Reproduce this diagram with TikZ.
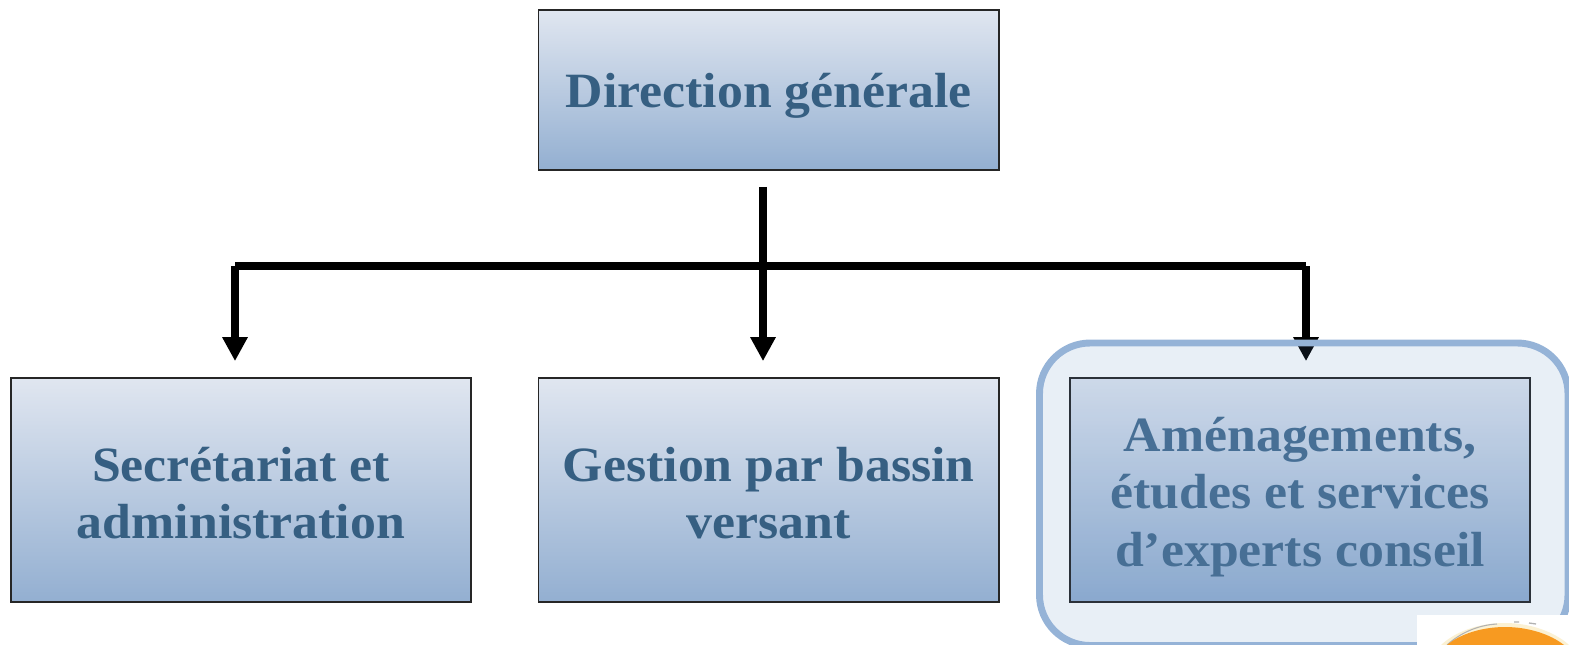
\documentclass[tikz,border=0pt]{standalone}
\usepackage{fontspec}
\setmainfont{Liberation Serif}[FakeStretch=1.05]
\usetikzlibrary{arrows.meta}
\definecolor{boxtop}{HTML}{E0E6F0}
\definecolor{boxbottom}{HTML}{93AFD1}
\definecolor{boxtext}{HTML}{365F82}
\definecolor{paletext}{HTML}{466D90}
\definecolor{focusline}{HTML}{95B3D7}
\definecolor{focusfill}{HTML}{4F81BD}
\definecolor{sunorange}{HTML}{F79A21}
\definecolor{suncream}{HTML}{FBF1D3}
\newcommand{\padtop}[1]{\rule{0pt}{#1}}
\tikzset{
  orgbox/.style={draw=black!85, line width=1.3pt, top color=boxtop, bottom color=boxbottom,
    minimum width=345.5pt, minimum height=168pt, inner sep=0pt, align=center,
    text=boxtext, font=\fontsize{37}{43}\selectfont\bfseries},
  busline/.style={line width=6pt},
  droparrow/.style={line width=6pt, -{Triangle[length=18pt,width=18pt]}}
}
\begin{document}
\begin{tikzpicture}[x=0.75pt,y=-0.75pt]
\useasboundingbox (0,0) rectangle (1569,645);
%%% the four boxes
\node[orgbox, minimum height=120pt] (direction) at (768.8,90) {\padtop{34pt}Direction générale};
\node[orgbox] (secretariat) at (241,490) {\padtop{30pt}Secrétariat et\\administration};
\node[orgbox] (gestion) at (768.8,490) {\padtop{30pt}Gestion par bassin\\versant};
\node[orgbox, text=paletext] (amenagements) at (1300,490) {\padtop{36pt}Aménagements,\\études et services\\d’experts conseil};
%%% the bus under the top box
\coordinate (busL) at (235,266);
\coordinate (busC) at (763,266);
\coordinate (busR) at (1306,266);
\draw[busline] (busL) -- (busR);
\draw[droparrow, shorten <=12pt, shorten >=12pt] (direction.south -| busC) -- (gestion.north -| busC);
\draw[droparrow, shorten >=12pt] (busL) -- (secretariat.north -| busL);
\draw[droparrow, shorten >=12pt] (busR) -- (amenagements.north -| busR);
%%% highlight round the third box
\fill[focusfill, fill opacity=.13, rounded corners=38pt] (1039.5,343) rectangle (1568,645.5);
\draw[focusline, line width=5.2pt, rounded corners=38pt] (1039.5,343) rectangle (1568,645.5);
%%% corner of the logo
\fill[white] (1417,615) rectangle (1569,645);
\fill[suncream] (1441,645) .. controls (1456,631) and (1480,623) .. (1505,623) .. controls (1530,623) and (1555,632) .. (1569,645) -- cycle;
\draw[black!30, line width=.8pt] (1447,645) .. controls (1460,633) and (1478,625) .. (1497,624);
\draw[black!30, line width=1pt] (1514,622) -- (1519,622) (1529,623) -- (1536,624);
\fill[sunorange] (1447,645) .. controls (1460,634) and (1482,627) .. (1505,627) .. controls (1528,627) and (1550,634) .. (1564,645) -- cycle;
\end{tikzpicture}
\end{document}
